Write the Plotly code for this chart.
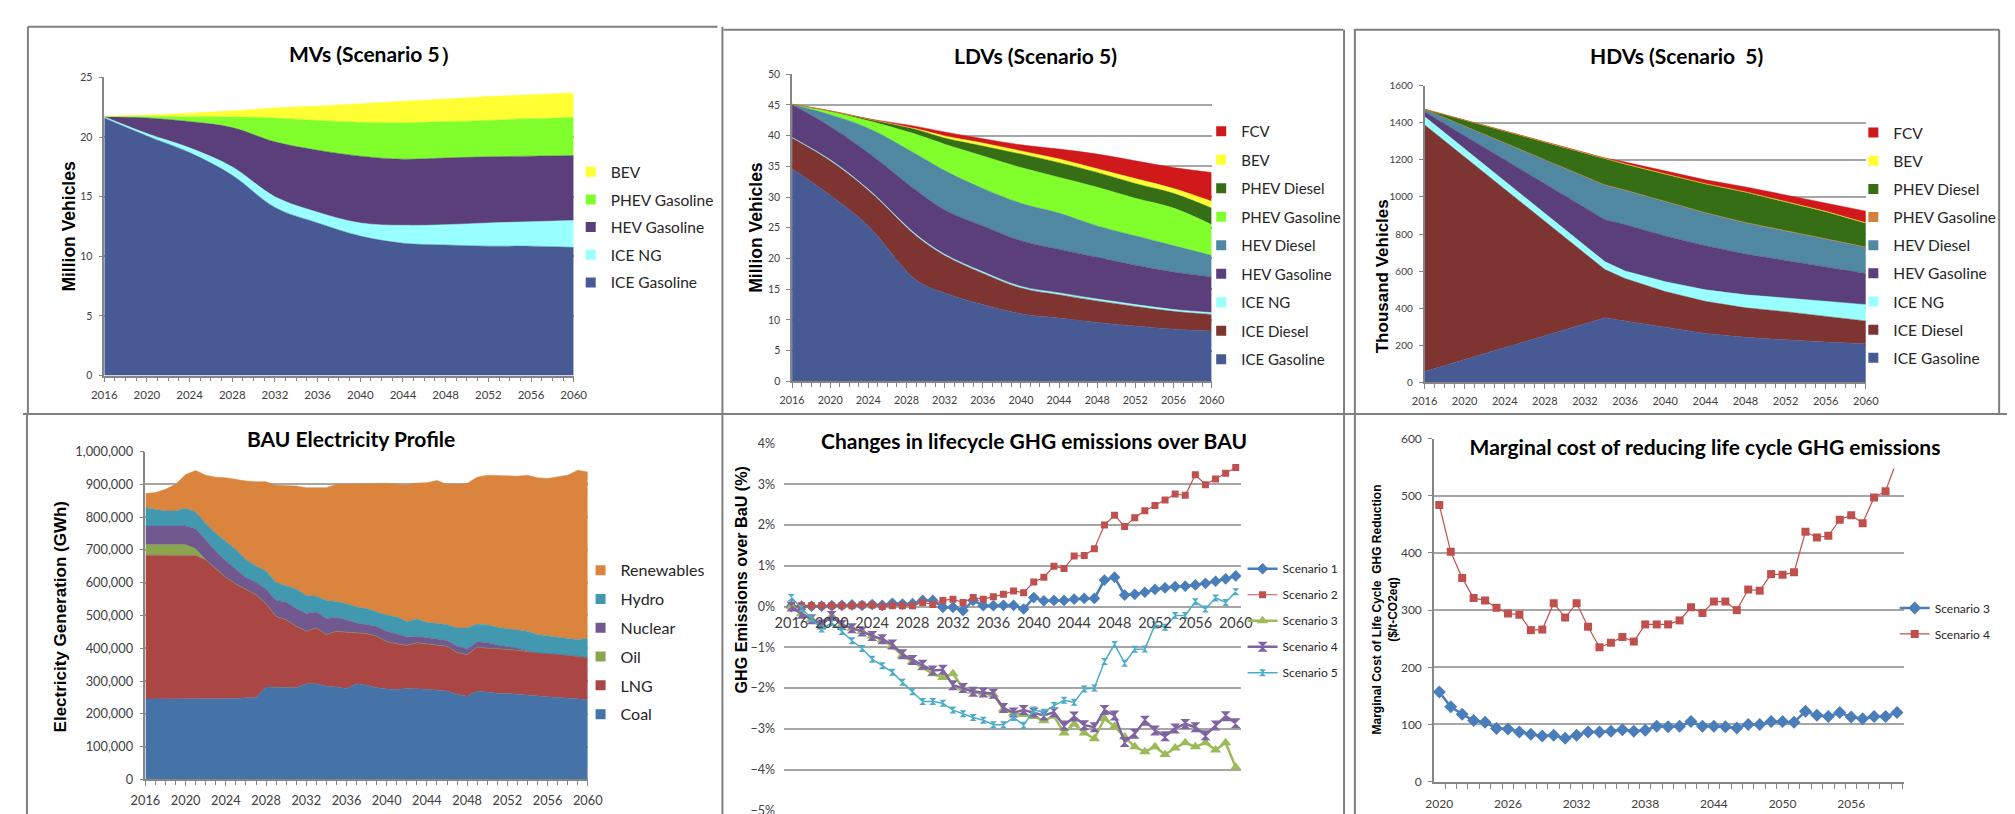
import numpy as np
import plotly.graph_objects as go

W, H = 2015, 814
def fx(p): return p / W
def fy(p): return 1 - p / H

# ---------------- MVs (Scenario 5), million vehicles ----------------
mv_years = [2016, 2020, 2024, 2028, 2032, 2036, 2040, 2044, 2048, 2052, 2056, 2060]
mv_ice_gasoline = [21.6, 20.1, 18.7, 16.8, 14.1, 12.8, 11.7, 11.1, 10.95, 10.85, 10.85, 10.75]
mv_ice_ng = [0.1, 0.2, 0.4, 0.7, 0.9, 0.9, 1.1, 1.5, 1.7, 1.95, 2.05, 2.25]
mv_hev_gasoline = [0.0, 1.3, 2.2, 3.3, 4.6, 5.2, 5.6, 5.55, 5.6, 5.55, 5.5, 5.45]
mv_phev_gasoline = [0.02, 0.15, 0.4, 0.9, 2.0, 2.5, 2.85, 3.05, 3.05, 3.05, 3.15, 3.2]
mv_bev = [0.03, 0.1, 0.3, 0.5, 0.85, 1.2, 1.55, 1.8, 1.9, 2.0, 2.0, 2.05]

# ---------------- LDVs (Scenario 5), million vehicles ----------------
ldv_years = [2016, 2020, 2024, 2029, 2032, 2036, 2040, 2044, 2048, 2052, 2056, 2060]
ldv_ice_gasoline = [34.6, 30.3, 25.3, 16.5, 14.4, 12.5, 11.0, 10.3, 9.6, 9.0, 8.5, 8.2]
ldv_ice_diesel = [5.0, 5.6, 5.8, 7.2, 6.1, 5.1, 4.2, 3.8, 3.5, 3.2, 2.9, 2.7]
ldv_ice_ng = [0.1, 0.15, 0.15, 0.2, 0.2, 0.25, 0.25, 0.3, 0.3, 0.3, 0.3, 0.3]
ldv_hev_gasoline = [5.3, 5.45, 5.95, 7.2, 7.2, 7.45, 7.45, 7.1, 6.8, 6.4, 6.1, 5.8]
ldv_hev_diesel = [0.05, 1.9, 4.0, 5.9, 6.4, 6.1, 6.1, 5.9, 5.1, 4.8, 4.3, 3.5]
ldv_phev_gasoline = [0.05, 0.5, 1.2, 3.2, 4.3, 5.3, 5.8, 5.8, 6.3, 6.1, 6.1, 5.0]
ldv_phev_diesel = [0.0, 0.1, 0.3, 0.8, 1.0, 1.6, 2.2, 2.4, 2.4, 2.4, 2.4, 2.7]
ldv_bev = [0.0, 0.0, 0.0, 0.1, 0.35, 0.5, 0.5, 0.6, 0.6, 0.8, 0.8, 1.1]
ldv_fcv = [0.0, 0.05, 0.05, 0.4, 0.65, 0.7, 1.0, 1.6, 2.4, 2.9, 3.4, 4.7]

# ---------------- HDVs (Scenario 5), thousand vehicles ----------------
hdv_years = [2016, 2025, 2034, 2036, 2040, 2044, 2048, 2052, 2056, 2060]
hdv_ice_gasoline = [58, 204, 349, 331, 296, 264, 243, 229, 217, 208]
hdv_ice_diesel = [1331, 796, 259, 229, 194, 173, 159, 152, 141, 123]
hdv_ice_ng = [44, 44, 42, 40, 53, 62, 70, 74, 79, 88]
hdv_hev_gasoline = [26, 124, 227, 251, 246, 238, 220, 202, 185, 168]
hdv_hev_diesel = [14, 100, 186, 185, 185, 176, 168, 159, 150, 141]
hdv_phev_gasoline = [0, 1, 1, 1, 2, 2, 2, 2, 2, 2]
hdv_phev_diesel = [0, 69, 138, 139, 146, 154, 163, 154, 146, 128]
hdv_bev = [0, 1, 2, 2, 2, 2, 2, 2, 2, 2]
hdv_fcv = [0, 3, 6, 10, 15, 21, 27, 36, 46, 63]

# ---------------- BAU electricity profile (cumulative tops, thousand GWh) ----------------
elec_years = list(range(2016, 2061))
elec_coal_top = [245, 245, 245, 245, 245, 245, 245, 245, 245, 247, 249, 250, 282, 282, 282, 280, 292, 292, 284, 282,
                 277, 292, 287, 280, 276, 274, 277, 277, 275, 272, 270, 260, 254, 270, 266, 263, 262, 259, 257, 254,
                 252, 250, 249, 246, 242]
elec_lng_top = [684, 684, 684, 684, 684, 683, 669, 643, 616, 596, 579, 563, 536, 497, 487, 467, 452, 462, 442, 452,
                449, 447, 445, 437, 420, 414, 409, 417, 414, 410, 406, 387, 380, 404, 400, 399, 397, 394, 390, 386,
                384, 382, 379, 376, 372]
elec_oil = [32, 32, 32, 32, 32, 20] + [0] * 39
elec_nuclear_top = [773, 773, 773, 773, 773, 765, 731, 696, 666, 641, 616, 601, 581, 546, 541, 521, 506, 511, 491, 494,
                    487, 477, 472, 467, 452, 444, 435, 437, 432, 427, 424, 407, 397, 420, 417, 410, 405, 400, 392, 386,
                    384, 382, 379, 376, 372]
elec_hydro_top = [829, 823, 819, 819, 827, 816, 781, 751, 726, 701, 671, 651, 636, 601, 591, 581, 561, 559, 546, 543,
                  536, 526, 521, 511, 501, 496, 481, 489, 479, 476, 472, 462, 462, 474, 472, 464, 460, 457, 452, 442,
                  437, 434, 430, 427, 430]
elec_total = [872, 875, 885, 900, 930, 942, 928, 922, 920, 915, 910, 908, 908, 897, 897, 895, 890, 890, 890, 900,
              900, 900, 902, 903, 903, 900, 898, 904, 905, 912, 900, 900, 903, 922, 928, 927, 925, 925, 928, 920,
              918, 923, 928, 943, 938]

# ---------------- Changes in lifecycle GHG emissions over BAU (%) ----------------
ghg_years = list(range(2016, 2061))
ghg_s1 = [0, 0.01, 0.01, 0.01, 0.02, 0.03, 0.04, 0.03, 0.05, 0.03, 0.08, 0.06, 0.07, 0.15, 0.15, -0.02, -0.02, -0.1,
          0.15, 0.02, 0.02, 0.03, 0.03, -0.06, 0.22, 0.14, 0.15, 0.15, 0.18, 0.2, 0.2, 0.65, 0.72, 0.28, 0.3, 0.35,
          0.42, 0.46, 0.49, 0.5, 0.53, 0.57, 0.62, 0.68, 0.75]
ghg_s2 = [0, 0.02, 0.02, 0.02, 0.02, 0.02, 0.02, 0.04, 0.04, 0.0, 0.02, 0.02, 0.02, 0.1, 0.05, 0.15, 0.18, 0.1, 0.22,
          0.18, 0.24, 0.3, 0.38, 0.34, 0.6, 0.72, 0.99, 0.93, 1.24, 1.25, 1.42, 2.0, 2.24, 1.96, 2.18, 2.35, 2.48,
          2.61, 2.76, 2.73, 3.23, 2.99, 3.13, 3.27, 3.41]
ghg_s3 = [0, -0.18, -0.31, -0.44, -0.23, -0.45, -0.53, -0.61, -0.72, -0.82, -0.98, -1.2, -1.35, -1.5, -1.65, -1.74,
          -1.65, -2.0, -2.08, -2.12, -2.15, -2.52, -2.62, -2.65, -2.7, -2.8, -2.69, -3.1, -2.88, -3.1, -3.24, -2.75,
          -2.94, -3.2, -3.44, -3.56, -3.44, -3.63, -3.47, -3.34, -3.44, -3.34, -3.52, -3.34, -3.94]
ghg_s4 = [0, -0.18, -0.31, -0.44, -0.23, -0.45, -0.53, -0.61, -0.72, -0.8, -0.93, -1.17, -1.31, -1.43, -1.57, -1.55,
          -1.93, -2.0, -2.09, -2.11, -2.14, -2.49, -2.6, -2.54, -2.6, -2.67, -2.59, -2.92, -2.7, -2.91, -2.96, -2.54,
          -2.67, -3.32, -3.12, -2.8, -3.04, -3.18, -2.99, -2.88, -2.96, -3.16, -2.92, -2.69, -2.86]
ghg_s5 = [0.22, -0.05, -0.3, -0.55, -0.4, -0.61, -0.84, -1.03, -1.29, -1.45, -1.61, -1.86, -2.09, -2.33, -2.33, -2.37,
          -2.54, -2.63, -2.72, -2.79, -2.9, -2.9, -2.72, -2.91, -2.54, -2.59, -2.43, -2.3, -2.35, -2.02, -2.0, -1.35,
          -0.93, -1.39, -1.05, -1.04, -0.45, -0.51, -0.22, -0.22, 0.12, -0.06, 0.21, 0.1, 0.36]

# ---------------- Marginal cost of reducing life cycle GHG emissions ($/t-CO2eq) ----------------
mc_years = list(range(2020, 2061))
mc_s3 = [157, 131, 118, 107, 104, 93, 92, 87, 83, 80, 81, 76, 81, 87, 87, 88, 91, 88, 90, 97, 96, 97, 105, 97, 97,
         96, 94, 100, 100, 105, 105, 104, 123, 116, 114, 121, 113, 110, 114, 114, 121]
mc_s4 = [484, 402, 356, 321, 317, 304, 294, 292, 265, 266, 312, 287, 312, 271, 235, 243, 253, 245, 275, 275, 275,
         282, 305, 295, 315, 315, 300, 336, 334, 363, 362, 366, 437, 427, 430, 458, 466, 452, 497, 508, 562]

# ---------------- colours ----------------
C_ICE_GAS = '#485A93'
C_ICE_DSL = '#7E3531'
C_ICE_NG = '#99FFFF'
C_HEV_GAS = '#5A3F7B'
C_HEV_DSL = '#5088A2'
C_PHEV_GAS = '#80FF2C'
C_PHEV_GAS_HDV = '#D2823A'
C_PHEV_DSL = '#356E14'
C_BEV = '#FFFF33'
C_FCV = '#D0191B'

TICK_COLOR = '#404040'
AXIS_COLOR = '#868686'
GRID_COLOR = '#A6A6A6'
TXT = '#262626'

fig = go.Figure()


def add_stack(years, series, names, colors, ax, group, legend, shape):
    for vals, name, col in zip(series, names, colors):
        fig.add_trace(go.Scatter(
            x=years, y=vals, stackgroup=group, mode='lines', name=name,
            line=dict(width=0.5, color=col, shape=shape), fillcolor=col,
            showlegend=False, xaxis='x' + ax, yaxis='y' + ax))
    for name, col in reversed(list(zip(names, colors))):
        fig.add_trace(go.Scatter(
            x=[None], y=[None], mode='markers', name=name,
            marker=dict(symbol='square', size=10, color=col),
            legend=legend, legendgroup=group + name, showlegend=True,
            xaxis='x' + ax, yaxis='y' + ax))


add_stack(mv_years,
          [mv_ice_gasoline, mv_ice_ng, mv_hev_gasoline, mv_phev_gasoline, mv_bev],
          ['ICE Gasoline', 'ICE NG', 'HEV Gasoline', 'PHEV Gasoline', 'BEV'],
          [C_ICE_GAS, C_ICE_NG, C_HEV_GAS, C_PHEV_GAS, C_BEV], '', 'mv', 'legend', 'spline')

add_stack(ldv_years,
          [ldv_ice_gasoline, ldv_ice_diesel, ldv_ice_ng, ldv_hev_gasoline, ldv_hev_diesel,
           ldv_phev_gasoline, ldv_phev_diesel, ldv_bev, ldv_fcv],
          ['ICE Gasoline', 'ICE Diesel', 'ICE NG', 'HEV Gasoline', 'HEV Diesel',
           'PHEV Gasoline', 'PHEV Diesel', 'BEV', 'FCV'],
          [C_ICE_GAS, C_ICE_DSL, C_ICE_NG, C_HEV_GAS, C_HEV_DSL, C_PHEV_GAS, C_PHEV_DSL, C_BEV, C_FCV],
          '2', 'ldv', 'legend2', 'spline')

add_stack(hdv_years,
          [hdv_ice_gasoline, hdv_ice_diesel, hdv_ice_ng, hdv_hev_gasoline, hdv_hev_diesel,
           hdv_phev_gasoline, hdv_phev_diesel, hdv_bev, hdv_fcv],
          ['ICE Gasoline', 'ICE Diesel', 'ICE NG', 'HEV Gasoline', 'HEV Diesel',
           'PHEV Gasoline', 'PHEV Diesel', 'BEV', 'FCV'],
          [C_ICE_GAS, C_ICE_DSL, C_ICE_NG, C_HEV_GAS, C_HEV_DSL, C_PHEV_GAS_HDV, C_PHEV_DSL, C_BEV, C_FCV],
          '3', 'hdv', 'legend3', 'linear')

# electricity components from the read cumulative boundaries
k = 1000.0
coal = np.array(elec_coal_top) * k
lng = (np.array(elec_lng_top) - np.array(elec_coal_top)) * k
oil = np.array(elec_oil) * k
nuclear = (np.array(elec_nuclear_top) - np.array(elec_lng_top) - np.array(elec_oil)) * k
hydro = (np.array(elec_hydro_top) - np.array(elec_nuclear_top)) * k
renew = (np.array(elec_total) - np.array(elec_hydro_top)) * k
add_stack(elec_years, [coal, lng, oil, nuclear, hydro, renew],
          ['Coal', 'LNG', 'Oil', 'Nuclear', 'Hydro', 'Renewables'],
          ['#4572A7', '#AA4643', '#89A54E', '#71588F', '#4198AF', '#DB843D'],
          '4', 'bau', 'legend4', 'linear')

# GHG changes
ghg_specs = [
    ('Scenario 1', ghg_s1, '#4A7EBB', 2.5, 'diamond', 9),
    ('Scenario 2', ghg_s2, '#C0504D', 1.2, 'square', 7),
    ('Scenario 3', ghg_s3, '#9BBB59', 2.5, 'triangle-up', 10),
    ('Scenario 4', ghg_s4, '#8064A2', 2.5, 'hourglass', 10),
    ('Scenario 5', ghg_s5, '#4BACC6', 1.5, 'hourglass', 7),
]
for name, vals, col, lw, sym, ms in ghg_specs:
    fig.add_trace(go.Scatter(
        x=ghg_years, y=vals, mode='lines+markers', name=name,
        line=dict(color=col, width=lw), marker=dict(symbol=sym, size=ms, color=col),
        legend='legend5', legendgroup='g' + name, xaxis='x5', yaxis='y5'))

# Marginal cost
for name, vals, col, lw, sym, ms in [
        ('Scenario 3', mc_s3, '#4A7EBB', 2.5, 'diamond', 10),
        ('Scenario 4', mc_s4, '#C0504D', 1.2, 'square', 8)]:
    fig.add_trace(go.Scatter(
        x=mc_years, y=vals, mode='lines+markers', name=name,
        line=dict(color=col, width=lw), marker=dict(symbol=sym, size=ms, color=col),
        legend='legend6', legendgroup='m' + name, xaxis='x6', yaxis='y6'))


def tf(size):
    return dict(family='Lato, Open Sans, sans-serif', size=size, color=TICK_COLOR)


def xaxis_years(dom, rng, size, anchor):
    return dict(domain=[fx(dom[0]), fx(dom[1])], range=rng, anchor=anchor,
                showgrid=False, zeroline=False, showline=True, linecolor=AXIS_COLOR, linewidth=1.5,
                ticks='outside', ticklen=5, tickcolor=AXIS_COLOR, tickwidth=1.2,
                tick0=2016, dtick=4, tickfont=tf(size), ticklabelstandoff=3,
                minor=dict(dtick=1, ticks='outside', ticklen=4, tickcolor=AXIS_COLOR, tickwidth=1.2),
                fixedrange=True)


def yaxis_vals(dom, rng, dtick, size, anchor, fmt=None):
    d = dict(domain=[fy(dom[1]), fy(dom[0])], range=rng, anchor=anchor, dtick=dtick,
             showgrid=True, gridcolor=GRID_COLOR, gridwidth=1.5, zeroline=False,
             showline=True, linecolor=AXIS_COLOR, linewidth=1.5,
             ticks='outside', ticklen=4, tickcolor=AXIS_COLOR, tickfont=tf(size),
             ticklabelstandoff=4, fixedrange=True)
    if fmt:
        d['tickformat'] = fmt
    return d


layout = dict(
    width=W, height=H, margin=dict(l=0, r=0, t=0, b=0),
    paper_bgcolor='white', plot_bgcolor='white', showlegend=True,
    xaxis=xaxis_years((82.5, 559), [2016, 2060], 11.5, 'y'),
    yaxis=yaxis_vals((61.7, 365.7), [0, 25], 5, 10.5, 'x'),
    xaxis2=xaxis_years((780.7, 1206.6), [2016, 2060], 10.8, 'y2'),
    yaxis2=yaxis_vals((58.3, 371.7), [0, 50], 5, 10.5, 'x2'),
    xaxis3=xaxis_years((1422.7, 1870.7), [2016, 2060], 11, 'y3'),
    yaxis3=yaxis_vals((70, 372.7), [0, 1600], 200, 10, 'x3'),
    xaxis4=xaxis_years((124.3, 573.3), [2016, 2060], 12.8, 'y4'),
    yaxis4=yaxis_vals((443.3, 777.7), [0, 1000000], 100000, 12.8, 'x4', ',d'),
    xaxis5=dict(domain=[fx(772.5), fx(1236.5)], range=[2015.27, 2060.53], anchor='free',
                position=fy(601), showgrid=False, zeroline=False, showline=False, ticks='',
                tick0=2016, dtick=4, tickfont=tf(14.5), ticklabelstandoff=6, fixedrange=True),
    yaxis5=dict(domain=[fy(809.3), fy(435)], range=[-5, 4], anchor='x5', dtick=1, ticksuffix='%',
                showgrid=True, gridcolor=GRID_COLOR, gridwidth=1.5, zeroline=False, showline=False,
                ticks='', tickfont=tf(12.5), ticklabelstandoff=8, fixedrange=True),
    xaxis6=dict(domain=[fx(1432.3), fx(1909.5)], range=[2019.535, 2060.62], anchor='y6',
                showgrid=False, zeroline=False, showline=True, linecolor=AXIS_COLOR, linewidth=1.5,
                ticks='', tick0=2020, dtick=6, tickfont=tf(12), ticklabelstandoff=10,
                minor=dict(tick0=2019.5, dtick=1, ticks='outside', ticklen=6, tickcolor=AXIS_COLOR,
                           tickwidth=1.2),
                fixedrange=True),
    yaxis6=yaxis_vals((430, 780), [0, 600], 100, 12, 'x6'),
)


def leg(x_text, y_top, size, gap):
    return dict(x=fx(x_text - 40), y=fy(y_top), xanchor='left', yanchor='top',
                xref='paper', yref='paper', bgcolor='rgba(0,0,0,0)',
                font=dict(family='Lato, Open Sans, sans-serif', size=size, color=TXT),
                traceorder='grouped', tracegroupgap=gap, itemwidth=30)


layout['legend'] = leg(596, 141, 15.5, 4.5)
layout['legend2'] = leg(1236, 100, 15, 6)
layout['legend3'] = leg(1898, 101, 15.5, 5)
layout['legend4'] = leg(606, 547, 16, 5)
layout['legend5'] = leg(1278, 548, 12, 7)
layout['legend6'] = leg(1940, 588, 12, 7)

fig.update_layout(**layout)

# ---------------- titles ----------------
TITLE_FONT = dict(family='Lato, Open Sans, sans-serif', size=21, color='black')
annos = []
for txt, x, y in [
        ('<b>MVs (Scenario 5）</b>', 357.8, 37),
        ('<b>LDVs (Scenario 5)</b>', 1027.4, 39),
        ('<b>HDVs (Scenario  5)</b>', 1678.2, 39),
        ('<b>BAU Electricity Profile</b>', 332.5, 430)]:
    annos.append(dict(text=txt, x=fx(x), y=fy(y), xref='paper', yref='paper',
                      xanchor='center', yanchor='middle', showarrow=False, font=TITLE_FONT))

annos.append(dict(text='<b>Changes in lifecycle GHG emissions over BAU</b>', x=fx(1026.4), y=fy(431.7),
                  xref='paper', yref='paper', xanchor='center', yanchor='middle', showarrow=False,
                  font=TITLE_FONT, bgcolor='white', width=470, height=34, borderpad=0))
annos.append(dict(text='<b>Marginal cost of reducing life cycle GHG emissions</b>', x=fx(1707.3), y=fy(438),
                  xref='paper', yref='paper', xanchor='center', yanchor='middle', showarrow=False,
                  font=TITLE_FONT, bgcolor='white', width=514, height=44, borderpad=0))

YT = 'Liberation Sans, Arial, sans-serif'
for txt, x, y, s in [
        ('<b>Million Vehicles</b>', 46.5, 213, 17.5),
        ('<b>Million Vehicles</b>', 744, 214, 17.5),
        ('<b>Thousand Vehicles</b>', 1380, 264, 17),
        ('<b>Electricity Generation (GWh)</b>', 38.3, 611.7, 17),
        ('<b>GHG Emissions over BaU (%)</b>', 728.7, 574, 16.2),
        ('<b>Marginal Cost of Life Cycle  GHG Reduction<br>($/t-CO2eq)</b>', 1383, 604, 12)]:
    annos.append(dict(text=txt, x=fx(x), y=fy(y), xref='paper', yref='paper', textangle=-90,
                      xanchor='center', yanchor='middle', showarrow=False,
                      font=dict(family=YT, size=s, color='black')))
fig.update_layout(annotations=annos)

# ---------------- panel frames ----------------
frame_lines = [
    (5, 10, 705, 10), (711, 13, 1340, 13), (1351, 13, 2006, 13),
    (0, 405, 2015, 405),
    (5, 10, 5, 405), (4, 405, 4, 814),
    (710, 10, 710, 814),
    (1341, 13, 1341, 814), (1352, 13, 1352, 814),
    (2006, 13, 2006, 405),
]
shapes = [dict(type='line', xref='paper', yref='paper', x0=fx(a), y0=fy(b), x1=fx(c), y1=fy(d),
               line=dict(color='#7F7F7F', width=2)) for a, b, c, d in frame_lines]
fig.update_layout(shapes=shapes)

fig.write_html('out.html')
